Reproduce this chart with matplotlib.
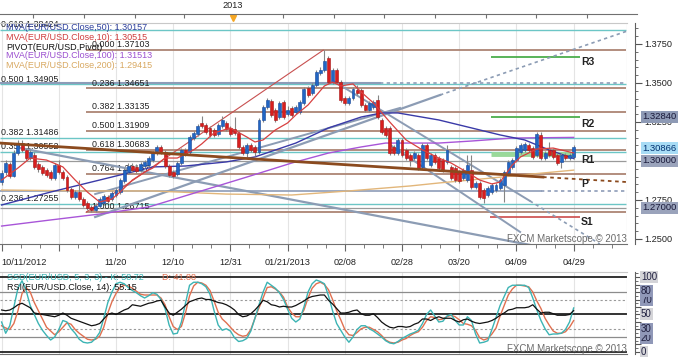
import numpy as np
import matplotlib
matplotlib.use("Agg")
import matplotlib.pyplot as plt
from matplotlib.lines import Line2D
from matplotlib.ticker import MultipleLocator, FormatStrFormatter
from matplotlib.transforms import blended_transform_factory

plt.rcParams['font.family'] = ['Liberation Sans', 'DejaVu Sans']

# ---- daily EUR/USD candles, 10/11/2012 .. 04/29/2013 (bar index) ----
opens = [
    1.2865, 1.2929, 1.2981, 1.2904, 1.3051, 1.3115, 1.3071, 1.3019, 1.3038, 1.2981,
    1.2962, 1.2942, 1.2929, 1.2891, 1.2974, 1.2929, 1.2897, 1.2821, 1.2769, 1.2801,
    1.2756, 1.2731, 1.2705, 1.2686, 1.2712, 1.2731, 1.2769, 1.2756, 1.2782, 1.2801,
    1.2872, 1.2929, 1.2968, 1.2962, 1.2942, 1.2968, 1.2974, 1.3006, 1.3051, 1.3090,
    1.3058, 1.2968, 1.2929, 1.2917, 1.2987, 1.3071, 1.3058, 1.3147, 1.3173, 1.3244,
    1.3231, 1.3212, 1.3199, 1.3173, 1.3224, 1.3244, 1.3212, 1.3205, 1.3179, 1.3090,
    1.3051, 1.3103, 1.3090, 1.3058, 1.3263, 1.3346, 1.3385, 1.3327, 1.3282, 1.3378,
    1.3301, 1.3340, 1.3314, 1.3314, 1.3372, 1.3468, 1.3436, 1.3487, 1.3564, 1.3583,
    1.3660, 1.3506, 1.3583, 1.3506, 1.3404, 1.3372, 1.3404, 1.3455, 1.3455, 1.3359,
    1.3327, 1.3346, 1.3391, 1.3263, 1.3212, 1.3212, 1.3090, 1.3051, 1.3135, 1.3071,
    1.3038, 1.3019, 1.3038, 1.2962, 1.3103, 1.2974, 1.3038, 1.3019, 1.3006, 1.2994,
    1.2962, 1.2955, 1.2929, 1.2891, 1.2878, 1.2942, 1.2833, 1.2859, 1.2814, 1.2782,
    1.2801, 1.2814, 1.2827, 1.2846, 1.2923, 1.2962, 1.3006, 1.3058, 1.3071, 1.3103,
    1.3083, 1.3038, 1.3167, 1.3019, 1.3071, 1.3071, 1.3038, 1.2994, 1.3038, 1.3019,
    1.3026]
highs = [
    1.2942, 1.3006, 1.2994, 1.3071, 1.3135, 1.3135, 1.3083, 1.3071, 1.3058, 1.2994,
    1.2974, 1.2955, 1.2942, 1.2987, 1.3006, 1.2942, 1.2910, 1.2833, 1.2814, 1.2878,
    1.2769, 1.2744, 1.2718, 1.2731, 1.2769, 1.2788, 1.2782, 1.2808, 1.2827, 1.2891,
    1.2955, 1.2987, 1.2987, 1.2981, 1.2994, 1.3006, 1.3032, 1.3064, 1.3103, 1.3103,
    1.3071, 1.2981, 1.2942, 1.3000, 1.3083, 1.3083, 1.3167, 1.3192, 1.3237, 1.3288,
    1.3244, 1.3224, 1.3212, 1.3244, 1.3288, 1.3256, 1.3224, 1.3282, 1.3192, 1.3103,
    1.3115, 1.3115, 1.3103, 1.3276, 1.3359, 1.3404, 1.3397, 1.3340, 1.3385, 1.3391,
    1.3353, 1.3353, 1.3359, 1.3391, 1.3474, 1.3481, 1.3500, 1.3583, 1.3602, 1.3710,
    1.3673, 1.3596, 1.3596, 1.3519, 1.3417, 1.3417, 1.3474, 1.3487, 1.3468, 1.3372,
    1.3385, 1.3391, 1.3423, 1.3276, 1.3224, 1.3224, 1.3103, 1.3147, 1.3147, 1.3083,
    1.3051, 1.3064, 1.3051, 1.3115, 1.3115, 1.3051, 1.3051, 1.3032, 1.3019, 1.3103,
    1.2974, 1.2968, 1.2942, 1.2955, 1.3038, 1.3038, 1.2872, 1.2872, 1.2827, 1.2840,
    1.2859, 1.2859, 1.2891, 1.2942, 1.3006, 1.3019, 1.3096, 1.3115, 1.3122, 1.3115,
    1.3096, 1.3186, 1.3186, 1.3064, 1.3122, 1.3083, 1.3051, 1.3051, 1.3051, 1.3051,
    1.3103]
lows = [
    1.2846, 1.2910, 1.2891, 1.2897, 1.3038, 1.3058, 1.3006, 1.3006, 1.2949, 1.2929,
    1.2910, 1.2897, 1.2878, 1.2878, 1.2917, 1.2878, 1.2801, 1.2756, 1.2756, 1.2744,
    1.2705, 1.2686, 1.2675, 1.2672, 1.2699, 1.2718, 1.2731, 1.2744, 1.2769, 1.2788,
    1.2859, 1.2917, 1.2929, 1.2923, 1.2929, 1.2955, 1.2962, 1.2994, 1.3038, 1.3045,
    1.2955, 1.2897, 1.2891, 1.2904, 1.2974, 1.3032, 1.3045, 1.3135, 1.3160, 1.3212,
    1.3173, 1.3154, 1.3154, 1.3160, 1.3212, 1.3192, 1.3160, 1.3167, 1.3077, 1.3038,
    1.3026, 1.3058, 1.3032, 1.3045, 1.3250, 1.3333, 1.3282, 1.3250, 1.3269, 1.3269,
    1.3288, 1.3282, 1.3301, 1.3301, 1.3359, 1.3410, 1.3423, 1.3474, 1.3551, 1.3570,
    1.3494, 1.3494, 1.3494, 1.3378, 1.3359, 1.3359, 1.3391, 1.3423, 1.3346, 1.3314,
    1.3314, 1.3333, 1.3269, 1.3173, 1.3154, 1.3038, 1.3038, 1.3038, 1.3026, 1.3006,
    1.2968, 1.3006, 1.2942, 1.2949, 1.3006, 1.2962, 1.2981, 1.2942, 1.2929, 1.2981,
    1.2878, 1.2865, 1.2859, 1.2878, 1.2865, 1.2821, 1.2821, 1.2756, 1.2731, 1.2769,
    1.2788, 1.2801, 1.2814, 1.2737, 1.2910, 1.2949, 1.2994, 1.3045, 1.3058, 1.3058,
    1.3013, 1.3026, 1.3006, 1.3006, 1.3026, 1.3013, 1.2974, 1.2955, 1.3006, 1.3006,
    1.3013]
closes = [
    1.2923, 1.2987, 1.2904, 1.3051, 1.3115, 1.3071, 1.3019, 1.3058, 1.2962, 1.2949,
    1.2923, 1.2910, 1.2891, 1.2974, 1.2929, 1.2891, 1.2814, 1.2769, 1.2801, 1.2756,
    1.2718, 1.2699, 1.2686, 1.2712, 1.2756, 1.2776, 1.2744, 1.2795, 1.2814, 1.2878,
    1.2942, 1.2968, 1.2942, 1.2936, 1.2981, 1.2994, 1.3019, 1.3051, 1.3090, 1.3058,
    1.2968, 1.2910, 1.2904, 1.2987, 1.3071, 1.3045, 1.3154, 1.3179, 1.3224, 1.3224,
    1.3186, 1.3167, 1.3167, 1.3231, 1.3263, 1.3205, 1.3173, 1.3179, 1.3090, 1.3051,
    1.3103, 1.3071, 1.3058, 1.3263, 1.3346, 1.3391, 1.3295, 1.3263, 1.3372, 1.3282,
    1.3327, 1.3295, 1.3346, 1.3378, 1.3462, 1.3423, 1.3487, 1.3570, 1.3583, 1.3641,
    1.3506, 1.3583, 1.3506, 1.3391, 1.3372, 1.3404, 1.3462, 1.3436, 1.3359, 1.3327,
    1.3372, 1.3378, 1.3282, 1.3186, 1.3167, 1.3051, 1.3051, 1.3135, 1.3038, 1.3019,
    1.3006, 1.3051, 1.2955, 1.3103, 1.3019, 1.3038, 1.2994, 1.2955, 1.2942, 1.3071,
    1.2891, 1.2878, 1.2872, 1.2942, 1.2974, 1.2833, 1.2859, 1.2769, 1.2763, 1.2827,
    1.2846, 1.2846, 1.2878, 1.2929, 1.2994, 1.3006, 1.3083, 1.3103, 1.3109, 1.3071,
    1.3026, 1.3173, 1.3019, 1.3051, 1.3038, 1.3026, 1.2987, 1.3038, 1.3019, 1.3038,
    1.30866]

# moving averages (bar, value)
ma10_bars = [0, 4, 7, 11, 15, 18, 21, 24, 27, 29, 32, 35, 37, 40, 43, 47, 49, 52, 56, 60,
             62, 64, 67, 70, 72, 75, 79, 81, 83, 86, 88, 91, 95, 99, 103, 107, 110, 113,
             117, 120, 122, 125, 127, 131, 135, 140]
ma10_vals = [1.2878, 1.2955, 1.3019, 1.3006, 1.2962, 1.2878, 1.2801, 1.2737, 1.2756, 1.2801,
             1.2878, 1.2929, 1.2955, 1.3019, 1.3019, 1.3071, 1.3110, 1.3180, 1.3212, 1.3154,
             1.3122, 1.3135, 1.3199, 1.3244, 1.3295, 1.3359, 1.3481, 1.3506, 1.3481, 1.3494,
             1.3442, 1.3372, 1.3250, 1.3135, 1.3071, 1.3019, 1.2987, 1.2942, 1.2878, 1.2853,
             1.2865, 1.2974, 1.3026, 1.3077, 1.3083, 1.30515]
ma50_bars = [0, 12, 24, 37, 45, 55, 62, 72, 80, 88, 93, 97, 107, 115, 122, 128, 134, 140]
ma50_vals = [1.2718, 1.2801, 1.2878, 1.2962, 1.2968, 1.2994, 1.3026, 1.3115, 1.3212, 1.3282,
             1.3308, 1.3308, 1.3263, 1.3212, 1.3167, 1.3135, 1.3071, 1.30157]
ma100_bars = [0, 12, 24, 36, 48, 60, 71, 80, 88, 94, 107, 115, 125, 140]
ma100_vals = [1.2583, 1.2622, 1.2660, 1.2705, 1.2801, 1.2897, 1.2987, 1.3051, 1.3090, 1.3115,
              1.3115, 1.3128, 1.3147, 1.31513]
ma200_bars = [0, 20, 37, 55, 71, 85, 100, 107, 120, 130, 140]
ma200_vals = [1.2814, 1.2808, 1.2808, 1.2788, 1.2782, 1.2808, 1.2840, 1.2859, 1.2891, 1.2917,
              1.29415]

# Fibonacci / level lines
teal_levels = [1.38424, 1.34905, 1.31486, 1.30552, 1.27255]
teal_labels = ['0.618 1.38424', '0.500 1.34905', '0.382 1.31486', '0.350 1.30552', '0.236 1.27255']
fib_levels = [1.37103, 1.34651, 1.33135, 1.31909, 1.30683, 1.29167, 1.26715]
fib_labels = ['0.000 1.37103', '0.236 1.34651', '0.382 1.33135', '0.500 1.31909',
              '0.618 1.30683', '0.764 1.29167', '1.000 1.26715']
pivot_names = ['R3', 'R2', 'R1', 'S1']
pivot_levels = [1.3667, 1.32840, 1.3045, 1.2644]

# oscillators
stoch_k = [40, 25, 35, 60, 85, 95, 82, 62, 50, 38,
           29, 22, 16, 20, 30, 42, 40, 31, 25, 17,
           13, 12, 13, 18, 26, 45, 66, 80, 91, 93,
           91, 86, 82, 79, 75, 72, 75, 79, 77, 70,
           58, 36, 24, 25, 40, 65, 89, 93, 93, 91,
           87, 77, 55, 36, 29, 31, 28, 19, 14, 15,
           18, 28, 45, 63, 80, 93, 89, 85, 79, 70,
           57, 45, 40, 44, 60, 80, 91, 96, 94, 91,
           75, 55, 38, 29, 20, 13, 20, 30, 35, 35,
           31, 28, 24, 20, 15, 12, 11, 14, 18, 21,
           24, 26, 29, 38, 50, 56, 48, 40, 41, 48,
           50, 42, 36, 36, 47, 42, 24, 12, 13, 15,
           30, 46, 62, 74, 86, 89, 89, 89, 89, 86,
           72, 56, 42, 31, 23, 24, 24, 25, 30, 40,
           58.72]
stoch_d = [35, 32, 30, 38, 55, 78, 86, 80, 66, 55,
           44, 33, 28, 23, 27, 33, 39, 37, 30, 25,
           21, 17, 16, 17, 21, 33, 52, 67, 78, 86,
           89, 88, 85, 81, 77, 76, 76, 76, 76, 72,
           63, 47, 34, 30, 34, 52, 75, 88, 93, 92,
           89, 82, 68, 53, 44, 39, 33, 27, 23, 21,
           22, 30, 45, 59, 72, 86, 87, 84, 80, 73,
           60, 52, 47, 47, 56, 72, 85, 91, 93, 90,
           83, 70, 55, 43, 30, 23, 22, 26, 31, 33,
           33, 30, 27, 22, 16, 13, 12, 13, 16, 18,
           22, 25, 27, 33, 42, 47, 46, 43, 44, 47,
           49, 47, 43, 38, 37, 35, 29, 19, 16, 18,
           24, 32, 48, 62, 76, 84, 89, 89, 88, 87,
           80, 68, 58, 45, 36, 28, 25, 25, 27, 33,
           41.88]
rsi = [56, 55, 56, 59, 63, 65, 62, 59, 52, 51,
       50, 49, 48, 47, 49, 52, 49, 45, 43, 41,
       39, 37, 35, 36, 38, 44, 50, 52, 50, 53,
       56, 58, 63, 62, 61, 63, 65, 66, 68, 69,
       60, 52, 49, 53, 57, 62, 67, 69, 71, 72,
       70, 70, 68, 66, 65, 63, 60, 56, 50, 47,
       48, 51, 56, 62, 69, 67, 63, 62, 60, 61,
       60, 60, 62, 65, 68, 72, 74, 75, 76, 76,
       69, 64, 58, 52, 52, 53, 55, 56, 51, 49,
       49, 51, 46, 40, 36, 33, 32, 34, 34, 33,
       34, 37, 39, 44, 44, 42, 45, 47, 45, 45,
       45, 42, 40, 43, 44, 41, 39, 38, 39, 40,
       42, 45, 49, 52, 56, 57, 59, 59, 59, 60,
       63, 57, 52, 53, 53, 51, 49, 49, 49, 50,
       55.15]

date_ticks = [0, 28, 42, 56, 70, 84, 98, 112, 126, 140]
date_labels = ['10/11/2012', '11/20', '12/10', '12/31', '01/21/2013',
               '02/08', '02/28', '03/20', '04/09', '04/29']

W, H = 680, 357
BAR_PX = 4.086
X0_PX = 1.6
fig = plt.figure(figsize=(W / 100, H / 100), dpi=100)


def px_axes(x0, y0, x1, y1):
    return fig.add_axes([x0 / W, 1 - y1 / H, (x1 - x0) / W, (y1 - y0) / H])


def px_text(x, y, s, **kw):
    kw.setdefault('va', 'center')
    fig.text(x / W, 1 - y / H, s, **kw)


xl = (-X0_PX / BAR_PX, (627 - X0_PX) / BAR_PX)
xend = xl[1] - 0.3

# ================= price panel =================
ax = px_axes(0, 23, 627, 244)
ax.set_xlim(*xl)
ax.set_ylim(1.24679, 1.38846)
ax.vlines(range(0, 154, 14), 1.2, 1.4, color='#e4e4e4', lw=0.8, zorder=0)

ax.hlines(teal_levels, xl[0], xend, color='#6cc6c6', lw=1.0, zorder=1)
ax.hlines(fib_levels, 20.7, xend, color='#ad8574', lw=1.3, zorder=1)
for lev, lab in zip(teal_levels, teal_labels):
    ax.text(-0.2, lev + 0.0006, lab, fontsize=6.4, color='#222222', va='bottom', zorder=2)
for lev, lab in zip(fib_levels, fib_labels):
    ax.text(22.1, lev + 0.0006, lab, fontsize=6.4, color='#222222', va='bottom', zorder=2)

# other horizontal levels
ax.hlines([1.3000, 1.2700], xl[0], xend, color='#9a9a9a', lw=0.9, zorder=1)
ax.plot([xl[0], 92.6], [1.3500, 1.3500], color='#8d9cb8', lw=1.5, zorder=1)
ax.plot([92.6, xend], [1.3500, 1.3500], color='#8d9cb8', lw=1.2, ls=(0, (2, 2)), zorder=1)
ax.plot([xl[0], 132.0], [1.2805, 1.2805], color='#8d9cb8', lw=1.2, zorder=1)
ax.plot([132.0, xend], [1.2805, 1.2805], color='#8d9cb8', lw=1.2, ls=(0, (2, 2)), zorder=1)

# pivots
ax.hlines(pivot_levels[:2], 119.8, 141.6, color='#4cae4c', lw=1.3, zorder=2)
ax.hlines(pivot_levels[2], 119.8, 140.3, color='#9ad99a', lw=3.5, zorder=2)
ax.hlines(pivot_levels[3], 119.6, 141.6, color='#cc4a4a', lw=1.2, zorder=2)

# trend lines
gray = '#8c9cb4'
ax.plot([4.5, 129.3], [1.3083, 1.2462], color=gray, lw=1.6, zorder=2)
ax.plot([22.9, 107.3], [1.2641, 1.3423], color=gray, lw=1.6, zorder=2)
ax.plot([107.3, 153.1], [1.3423, 1.3833], color=gray, lw=1.2, ls=(0, (2, 2)), zorder=2)
ax.plot([22.9, 97.5], [1.2788, 1.3340], color=gray, lw=1.4, zorder=2)
ax.plot([81.6, 129.3], [1.3506, 1.2744], color=gray, lw=1.4, zorder=2)
ax.plot([129.3, 146.4], [1.2744, 1.2468], color=gray, lw=1.2, ls=(0, (2, 2)), zorder=2)
ax.plot([95.1, 126.9], [1.3103, 1.2545], color=gray, lw=1.4, zorder=2)
ax.plot([20.7, 78.7], [1.26715, 1.37103], color='#c85050', lw=0.8, zorder=2)
ax.plot([xl[0], 132.5], [1.3115, 1.2897], color='#8b4a1e', lw=2.0, zorder=5)
ax.plot([132.5, 153.1], [1.2897, 1.2865], color='#8b4a1e', lw=1.3, ls=(0, (2, 2)), zorder=5)

# moving averages
ax.plot(ma200_bars, ma200_vals, color='#e2b67a', lw=1.0, zorder=2.5)
ax.plot(ma100_bars, ma100_vals, color='#a855d8', lw=1.0, zorder=2.5)
ax.plot(ma50_bars, ma50_vals, color='#3a3aa8', lw=1.0, zorder=2.5)
ax.plot(ma10_bars, ma10_vals, color='#d84040', lw=0.9, zorder=4.5)

# candles
o, h, l, c = map(np.array, (opens, highs, lows, closes))
idx = np.arange(len(c))
up = c >= o
ax.vlines(idx, l, h, color='#858585', lw=0.8, zorder=3)
bottom = np.minimum(o, c)
height = np.maximum(np.abs(c - o), 0.00025)
ax.bar(idx[up], height[up], 0.72, bottom=bottom[up], color='#2166c4',
       edgecolor='#17479a', lw=0.4, zorder=4)
ax.bar(idx[~up], height[~up], 0.72, bottom=bottom[~up], color='#d81e1e',
       edgecolor='#a51515', lw=0.4, zorder=4)

# axes styling
for s in ['left']:
    ax.spines[s].set_visible(False)
ax.spines['top'].set_color('#c8c8c8')
ax.spines['bottom'].set_color('#707070')
ax.spines['right'].set_position(('outward', 6))
ax.spines['right'].set_color('#606060')
ax.add_line(Line2D([1, 1], [0, 1], transform=ax.transAxes, color='#c8c8c8', lw=0.8))
ax.yaxis.tick_right()
ax.yaxis.set_major_locator(MultipleLocator(0.025))
ax.yaxis.set_minor_locator(MultipleLocator(0.005))
ax.yaxis.set_major_formatter(FormatStrFormatter('%.4f'))
ax.tick_params(axis='y', which='major', length=5, width=0.8, color='#555555',
               labelsize=6.6, pad=1.5, labelcolor='#222222')
ax.tick_params(axis='y', which='minor', length=2.5, width=0.6, color='#555555')
ax.set_xticks(range(0, 154, 14))
ax.set_xticks(np.arange(0, 154, 14 / 3), minor=True)
ax.tick_params(axis='x', which='major', length=5, color='#666666', labelbottom=False)
ax.tick_params(axis='x', which='minor', length=3, color='#666666')

trans = blended_transform_factory(ax.transData, ax.transAxes)
for b, lab in zip(date_ticks, date_labels):
    if b == 0:
        ax.text(-0.1, -0.082, lab, transform=trans, ha='left', va='center',
                fontsize=6.6, color='#222222')
    else:
        ax.text(b, -0.082, lab, transform=trans, ha='center', va='center',
                fontsize=6.6, color='#222222')

# legend texts
px_text(6, 28, 'MVA(EUR/USD.Close,50): 1.30157', color='#2c3e9c', fontsize=6.5)
px_text(6, 38, 'MVA(EUR/USD.Close,10): 1.30515', color='#d03c3c', fontsize=6.5)
px_text(6, 47, 'PIVOT(EUR/USD,Pivot)', color='#111111', fontsize=6.5)
px_text(6, 56, 'MVA(EUR/USD.Close,100): 1.31513', color='#9b4fd0', fontsize=6.5)
px_text(6, 66, 'MVA(EUR/USD.Close,200): 1.29415', color='#d8a860', fontsize=6.5)

for name, ypx in zip(['R3', 'R2', 'R1', 'P', 'S1'], [62, 124, 160, 184, 222]):
    px_text(581, ypx, name, fontsize=7.5, fontweight='bold', color='#222222')

px_text(627, 239, 'FXCM Marketscope \u00a9 2013', ha='right', fontsize=7, color='#6a6a6a')

# highlighted price boxes
for txt, ypx, fc, tc in [('1.32840', 117, '#8e9ab5', '#1a1a3a'),
                         ('1.30866', 148, '#a8dcf5', '#003070'),
                         ('1.30000', 161, '#9aa3bb', '#1a1a3a'),
                         ('1.27000', 208, '#9aa3bb', '#1a1a3a')]:
    px_text(642, ypx, txt, fontsize=6.8, color=tc,
            bbox=dict(boxstyle='square,pad=0.15', fc=fc, ec='none'))

# top date strip
ax_top = px_axes(0, 14, 637, 23)
ax_top.set_xlim(xl[0], (637 - X0_PX) / BAR_PX)
ax_top.set_ylim(0, 1)
ax_top.patch.set_visible(False)
for s in ['left', 'right', 'bottom']:
    ax_top.spines[s].set_visible(False)
ax_top.spines['top'].set_color('#707070')
ax_top.xaxis.tick_top()
ax_top.set_xticks([7.7, 20.2, 32.6, 44.6, 56.6, 68.9, 81.3, 93.6, 106.1, 118.5, 130.8, 143.3])
ax_top.tick_params(axis='x', direction='in', length=3, color='#707070', labeltop=False)
ax_top.set_yticks([])
ax_top.plot(56.6, 0.6, marker='v', ms=5, color='#f5a623', clip_on=False)
px_text(233, 6, '2013', ha='center', fontsize=6.6, color='#222222')

# ================= oscillator panel =================
ax2 = px_axes(0, 272, 627, 354)
ax2.set_xlim(*xl)
ax2.set_ylim(-2.67, 106.67)
ax2.vlines(range(0, 154, 14), -5, 110, color='#e4e4e4', lw=0.8, zorder=0)
for lev in [100, 50, 0]:
    ax2.axhline(lev, color='#111111', lw=1.2, zorder=1)
for lev in [80, 20]:
    ax2.axhline(lev, color='#8c8c8c', lw=0.9, zorder=1)
for lev in [70, 30]:
    ax2.axhline(lev, color='#9a9a9a', lw=0.8, ls=(0, (2, 2)), zorder=1)
ax2.plot(idx, stoch_d, color='#e07050', lw=1.0, zorder=3)
ax2.plot(idx, stoch_k, color='#3cb4b4', lw=1.0, zorder=3)
ax2.plot(idx, rsi, color='#111111', lw=0.9, zorder=3)

ax2.spines['left'].set_visible(False)
ax2.spines['top'].set_color('#c8c8c8')
ax2.spines['bottom'].set_color('#707070')
ax2.spines['right'].set_position(('outward', 6))
ax2.spines['right'].set_color('#606060')
ax2.add_line(Line2D([1, 1], [0, 1], transform=ax2.transAxes, color='#c8c8c8', lw=0.8))
ax2.yaxis.tick_right()
ax2.yaxis.set_major_locator(MultipleLocator(10))
ax2.yaxis.set_minor_locator(MultipleLocator(5))
ax2.tick_params(axis='y', which='major', length=4, color='#555555', labelright=False)
ax2.tick_params(axis='y', which='minor', length=2, color='#555555')
ax2.set_xticks([])

px_text(7, 278, 'SSD(EUR/USD, 5, 3, 3) - K: 58.72', color='#3cb4b4', fontsize=6.5)
px_text(162, 278, 'D: 41.88', color='#e07050', fontsize=6.5)
px_text(7, 288, 'RSI(EUR/USD.Close, 14): 55.15', color='#111111', fontsize=6.5)
px_text(627, 349, 'FXCM Marketscope \u00a9 2013', ha='right', fontsize=7, color='#6a6a6a')

for txt, ypx, fc in [('100', 277, '#d4d4d8'), ('70', 300, '#9098b8'), ('80', 291, '#9098b8'),
                     ('50', 314, '#d4d4d8'), ('20', 338, '#9098b8'), ('30', 329, '#9098b8'),
                     ('0', 352, '#d4d4d8')]:
    px_text(641, ypx, txt, fontsize=7, color='#202040',
            bbox=dict(boxstyle='square,pad=0.12', fc=fc, ec='none'))

fig.savefig('out.png', dpi=100)
